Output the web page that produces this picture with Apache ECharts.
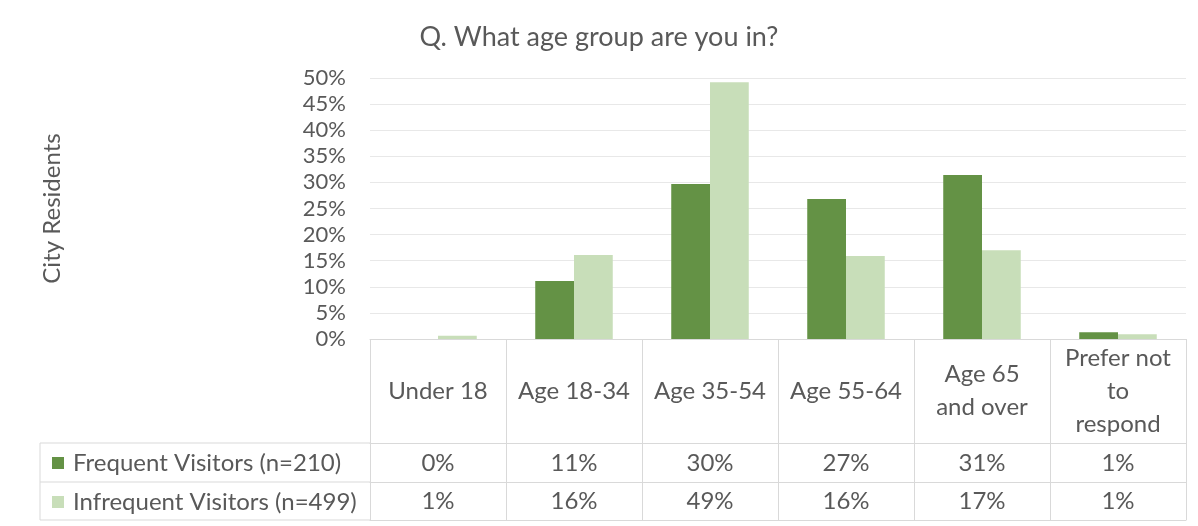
<!DOCTYPE html>
<html><head><meta charset="utf-8">
<script src="https://cdn.jsdelivr.net/npm/echarts@6/dist/echarts.min.js"></script>
<style>html,body{margin:0;padding:0;background:#fff}#c{width:1198px;height:526px}</style>
</head><body><div id="c"></div>
<script>
const titleText = 'Q. What age group are you in?';
const yAxisTitle = 'City Residents';
const categories = ['Under 18', 'Age 18-34', 'Age 35-54', 'Age 55-64', 'Age 65\nand over', 'Prefer not\nto\nrespond'];
const seriesNames = ['Frequent Visitors (n=210)', 'Infrequent Visitors (n=499)'];
const frequent = [0, 11.1, 29.7, 26.8, 31.4, 1.3];
const infrequent = [0.6, 16.1, 49.2, 15.9, 17.0, 0.9];
const frequentTable = ['0%', '11%', '30%', '27%', '31%', '1%'];
const infrequentTable = ['1%', '16%', '49%', '16%', '17%', '1%'];
const yMin = 0, yMax = 50, yStep = 5;

const FONT = 'Lato, "Open Sans", sans-serif';
const TXT = '#595959';
const LINE = '#d9d9d9';
const TFS = 24;
const GRID_LEFT = 370, GRID_RIGHT = 12, GRID_TOP = 78, GRID_BOTTOM = 187;
const AXIS_Y = 526 - GRID_BOTTOM;
const ROW_OFFSETS = [104, 143, 181];
const TABLE_LEFT = 40;

const chart = echarts.init(document.getElementById('c'));
const baseX = {
  type: 'category', data: categories, position: 'bottom', gridIndex: 0,
  axisTick: { show: false }, splitLine: { show: false },
  axisLine: { show: true, lineStyle: { color: LINE, width: 1 } }
};
chart.setOption({
  backgroundColor: '#fff',
  textStyle: { fontFamily: FONT },
  title: { text: titleText, left: 'center', top: 19,
    textStyle: { fontFamily: FONT, fontSize: 27, fontWeight: 'normal', color: TXT } },
  legend: {
    orient: 'vertical', left: 52, top: 451, padding: 0, itemGap: 15,
    itemWidth: 12, itemHeight: 12, icon: 'rect', selectedMode: false,
    data: seriesNames,
    textStyle: { fontFamily: FONT, fontSize: TFS, lineHeight: 24, color: TXT, padding: [0, 0, 0, 4] }
  },
  grid: { left: GRID_LEFT, right: GRID_RIGHT, top: GRID_TOP, bottom: GRID_BOTTOM },
  xAxis: [
    Object.assign({}, baseX, {
      axisTick: { show: true, interval: 0, length: ROW_OFFSETS[2], lineStyle: { color: LINE } },
      axisLabel: { interval: 0, fontFamily: FONT, fontSize: TFS, lineHeight: 33, color: TXT,
        verticalAlign: 'middle', margin: 52 }
    }),
    Object.assign({}, baseX, { offset: ROW_OFFSETS[0],
      axisLabel: { interval: 0, fontFamily: FONT, fontSize: TFS, color: TXT, verticalAlign: 'middle', margin: 20,
        formatter: (v, i) => frequentTable[i] } }),
    Object.assign({}, baseX, { offset: ROW_OFFSETS[1],
      axisLabel: { interval: 0, fontFamily: FONT, fontSize: TFS, color: TXT, verticalAlign: 'middle', margin: 19,
        formatter: (v, i) => infrequentTable[i] } }),
    Object.assign({}, baseX, { offset: ROW_OFFSETS[2], axisLabel: { show: false } })
  ],
  yAxis: {
    type: 'value', min: yMin, max: yMax, interval: yStep,
    name: yAxisTitle, nameLocation: 'middle', nameGap: 306, nameRotate: 90,
    nameTextStyle: { fontFamily: FONT, fontSize: TFS, color: TXT },
    axisLine: { show: false }, axisTick: { show: false },
    axisLabel: { formatter: '{value}%', fontFamily: FONT, fontSize: 22, color: TXT, margin: 24 },
    splitLine: { lineStyle: { color: '#e8e8e8', width: 1 } }
  },
  series: [
    { name: seriesNames[0], type: 'bar', data: frequent, barGap: '0%', barCategoryGap: '43%',
      itemStyle: { color: '#649245' }, xAxisIndex: 0 },
    { name: seriesNames[1], type: 'bar', data: infrequent, barGap: '0%', barCategoryGap: '43%',
      itemStyle: { color: '#c8deb9' }, xAxisIndex: 0 }
  ],
  graphic: [
    { type: 'line', shape: { x1: TABLE_LEFT, y1: AXIS_Y + ROW_OFFSETS[0], x2: GRID_LEFT, y2: AXIS_Y + ROW_OFFSETS[0] }, style: { stroke: LINE, lineWidth: 1 }, silent: true },
    { type: 'line', shape: { x1: TABLE_LEFT, y1: AXIS_Y + ROW_OFFSETS[1], x2: GRID_LEFT, y2: AXIS_Y + ROW_OFFSETS[1] }, style: { stroke: LINE, lineWidth: 1 }, silent: true },
    { type: 'line', shape: { x1: TABLE_LEFT, y1: AXIS_Y + ROW_OFFSETS[2], x2: GRID_LEFT, y2: AXIS_Y + ROW_OFFSETS[2] }, style: { stroke: LINE, lineWidth: 1 }, silent: true },
    { type: 'line', shape: { x1: TABLE_LEFT, y1: AXIS_Y + ROW_OFFSETS[0], x2: TABLE_LEFT, y2: AXIS_Y + ROW_OFFSETS[2] }, style: { stroke: LINE, lineWidth: 1 }, silent: true }
  ]
});
</script></body></html>
